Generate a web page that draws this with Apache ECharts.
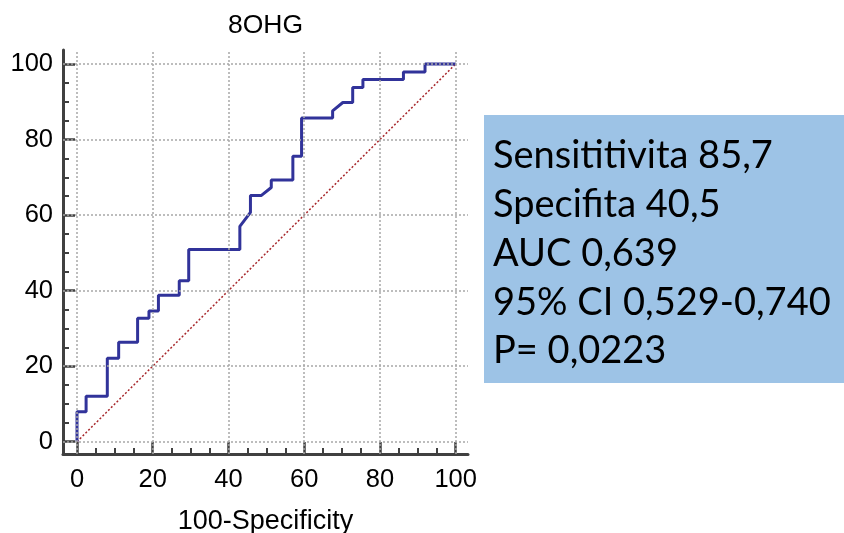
<!DOCTYPE html>
<html>
<head>
<meta charset="utf-8">
<script src="https://cdn.jsdelivr.net/npm/echarts@6/dist/echarts.min.js"></script>
<style>
html,body{margin:0;padding:0;background:#fff;}
#chart{width:844px;height:533px;}
</style>
</head>
<body>
<div id="chart"></div>
<script>
// ---- data ----
var chartTitle = '8OHG';
var xAxisName = '100-Specificity';
var rocX = [0, 0, 2.4, 2.4, 8, 8, 11, 11, 16, 16, 19, 19, 21.5, 21.5, 27, 27, 29.5, 29.5, 43, 43, 45.8, 45.8, 48.7, 51.3, 51.3, 57, 57, 59.3, 59.3, 67.5, 67.5, 70.2, 72.8, 72.8, 75.5, 75.5, 86.2, 86.2, 91.9, 91.9, 100];
var rocY = [0, 7.9, 7.9, 12, 12, 22.1, 22.1, 26.3, 26.3, 32.7, 32.7, 34.6, 34.6, 38.8, 38.8, 42.6, 42.6, 50.9, 50.9, 57, 60.7, 65.2, 65.2, 67.3, 69.3, 69.3, 75.6, 75.6, 85.7, 85.7, 87.6, 89.8, 89.8, 93.8, 93.8, 95.9, 95.9, 97.9, 97.9, 100, 100];
var diagX = [0, 100];
var diagY = [0, 100];
var majorTicks = [0, 20, 40, 60, 80, 100];
var minorTicks = [5, 10, 15, 25, 30, 35, 45, 50, 55, 65, 70, 75, 85, 90, 95];
var statLines = ['Sensititivita 85,7', 'Specifita 40,5', 'AUC 0,639', '95% CI 0,529-0,740', 'P= 0,0223'];

// ---- chart ----
var font = "'Liberation Sans', Arial, sans-serif";
var axisColor = '#404040';
function pairs(xs, ys) { return xs.map(function (x, i) { return [x, ys[i]]; }); }

function mainAxis(isX) {
  return {
    type: 'value',
    min: isX ? -3.7 : -3.26,
    max: isX ? 103.25 : 103.7,
    position: isX ? 'bottom' : 'left',
    name: isX ? xAxisName : '',
    nameLocation: 'middle',
    nameGap: 54,
    nameTextStyle: { fontFamily: font, fontSize: 27, color: '#000' },
    axisLine: { show: true, onZero: false, lineStyle: { color: axisColor, width: 3 } },
    axisTick: { show: true, inside: true, length: 12, customValues: majorTicks, lineStyle: { color: axisColor, width: 2.5 } },
    axisLabel: { show: true, customValues: majorTicks, fontFamily: font, fontSize: 25.5, color: '#000', margin: isX ? 13 : 10 },
    splitLine: { show: false }
  };
}
function minorAxis(isX) {
  return {
    type: 'value',
    min: isX ? -3.7 : -3.26,
    max: isX ? 103.25 : 103.7,
    position: isX ? 'bottom' : 'left',
    axisLine: { show: false, onZero: false },
    axisTick: { show: true, inside: true, length: 6, customValues: minorTicks, lineStyle: { color: axisColor, width: 2 } },
    axisLabel: { show: false },
    splitLine: { show: false }
  };
}

var gridMarks = majorTicks.map(function (v) { return { xAxis: v }; })
  .concat(majorTicks.map(function (v) { return { yAxis: v }; }));

var chart = echarts.init(document.getElementById('chart'), null, { renderer: 'canvas' });
chart.setOption({
  animation: false,
  backgroundColor: '#fff',
  grid: { left: 63, right: 376, top: 50, bottom: 79, containLabel: false, outerBoundsMode: 'none' },
  xAxis: [mainAxis(true), minorAxis(true)],
  yAxis: [mainAxis(false), minorAxis(false)],
  series: [
    {
      type: 'line', data: [], z: 1, silent: true,
      markLine: {
        silent: true, symbol: 'none', label: { show: false },
        lineStyle: { type: [2, 2], color: '#a8a8a8', width: 1.5 },
        data: gridMarks
      }
    },
    {
      type: 'line', data: pairs(diagX, diagY), showSymbol: false, z: 2, silent: true,
      lineStyle: { color: '#a8282c', width: 1.5, type: [2, 2] }
    },
    {
      type: 'line', data: pairs(rocX, rocY), showSymbol: false, z: 3, silent: true,
      lineStyle: { color: '#31339a', width: 3 }
    }
  ],
  graphic: [
    {
      type: 'text', x: 265.5, y: 26,
      style: { text: chartTitle, fontFamily: font, fontSize: 26.5, fill: '#000', align: 'center', verticalAlign: 'middle' }
    },
    {
      type: 'rect', shape: { x: 484, y: 115, width: 362, height: 268 },
      style: { fill: '#9dc3e6' }, z: 0
    }
  ].concat(statLines.map(function (t, i) {
    return {
      type: 'text', x: 493, y: 156 + i * 48.75, z: 10,
      style: { text: t, fontFamily: "Lato, 'Open Sans', sans-serif", fontSize: 38, fill: '#000', align: 'left', verticalAlign: 'middle' }
    };
  }))
});
</script>
</body>
</html>
